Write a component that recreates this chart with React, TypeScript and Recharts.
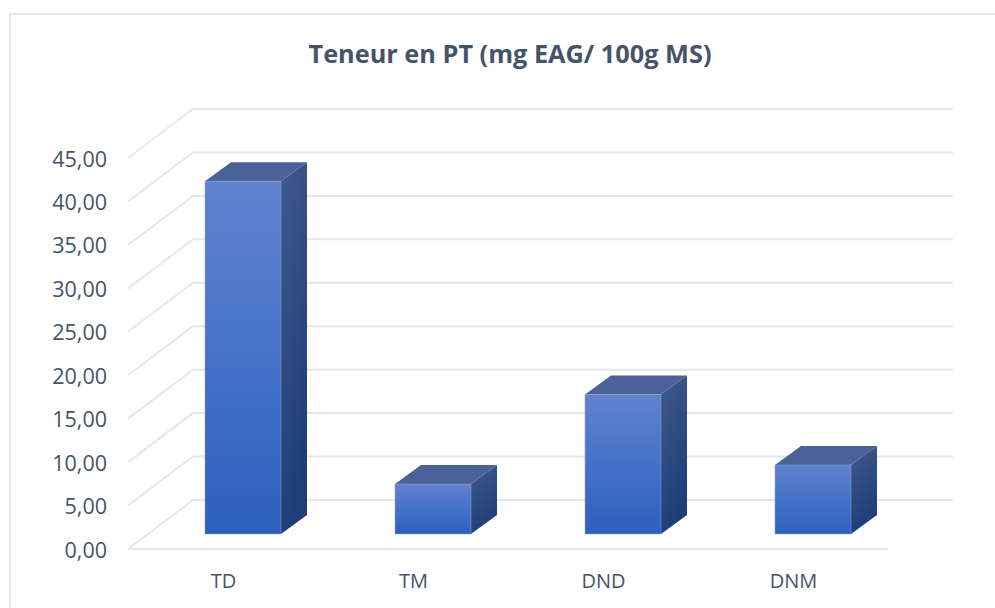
import { BarChart, Bar, XAxis, YAxis, CartesianGrid } from "recharts";

const CATEGORIES = ["TD", "TM", "DND", "DNM"];
const TENEUR = [40.6, 5.75, 16.05, 7.95];
const Y_TICKS = [0, 5, 10, 15, 20, 25, 30, 35, 40, 45];

const TEXT = "#44546A";
const GRID = "#E4E7EC";
const FONT = '"Open Sans", sans-serif';

const data = CATEGORIES.map((name, i) => ({ name, value: TENEUR[i] }));

// 3D depth of the bars and offsets of the fake wall/floor
const DEPTH_X = 26;
const DEPTH_Y = 19;
const WALL_LEFT = 193;
const WALL_RIGHT = 953;
const FRONT_LEFT = 128;
const FRONT_RIGHT = 888;
const WALL_DY = -34;
const FRONT_DY = 15;

function Bar3D(props: any) {
  const { x, y, width, height } = props;
  const r = x + width;
  const b = y + height;
  return (
    <g>
      <polygon
        points={`${x},${y} ${x + DEPTH_X},${y - DEPTH_Y} ${r + DEPTH_X},${y - DEPTH_Y} ${r},${y}`}
        fill="url(#topFace)"
      />
      <polygon
        points={`${r},${y} ${r + DEPTH_X},${y - DEPTH_Y} ${r + DEPTH_X},${b - DEPTH_Y} ${r},${b}`}
        fill="url(#sideFace)"
      />
      <rect x={x} y={y} width={width} height={height} fill="url(#frontFace)" stroke="#8EA6DA" strokeOpacity={0.5} strokeWidth={1} />
    </g>
  );
}

function GridLine(props: any) {
  const { y1, y2 } = props;
  const isFloor = Math.abs(y1 - 534) < 1;
  return (
    <g stroke={GRID} strokeWidth={2} fill="none">
      <polyline
        points={`${FRONT_LEFT},${y1 + FRONT_DY} ${WALL_LEFT},${y1 + WALL_DY} ${WALL_RIGHT},${y2 + WALL_DY}`}
      />
      {isFloor && <line x1={FRONT_LEFT} y1={y1 + FRONT_DY} x2={FRONT_RIGHT} y2={y1 + FRONT_DY} />}
    </g>
  );
}

function YTick(props: any) {
  const { y, payload } = props;
  return (
    <text x={107} y={y + 15} textAnchor="end" dominantBaseline="central" fill={TEXT} fontSize={21.5} fontFamily={FONT}>
      {payload.value.toFixed(2).replace(".", ",")}
    </text>
  );
}

function XTick(props: any) {
  const { x, payload } = props;
  return (
    <text x={x - 19.5} y={580} textAnchor="middle" dominantBaseline="central" fill={TEXT} fontSize={20} fontFamily={FONT}>
      {payload.value}
    </text>
  );
}

export default function App() {
  return (
    <div style={{ position: "absolute", left: 0, top: 0, width: 995, height: 608, background: "#fff", overflow: "hidden" }}>
      {/* chart frame, only left and top edges are visible */}
      <div
        style={{
          position: "absolute",
          left: 9,
          top: 13,
          width: 986,
          height: 594,
          borderLeft: `2px solid ${GRID}`,
          borderTop: `2px solid ${GRID}`,
          boxSizing: "border-box",
        }}
      />
      <div
        style={{
          position: "absolute",
          left: 0,
          top: 35,
          width: 1020,
          textAlign: "center",
          fontFamily: FONT,
          fontWeight: 700,
          fontSize: 25.3,
          lineHeight: "36px",
          color: TEXT,
        }}
      >
        Teneur en PT (mg EAG/ 100g MS)
      </div>
      <BarChart
        width={995}
        height={608}
        data={data}
        barCategoryGap="30%"
        margin={{ top: 143, right: 87, bottom: 0, left: 0 }}
        style={{ position: "absolute", left: 0, top: 0 }}
      >
        <defs>
          <linearGradient id="frontFace" x1="0" y1="0" x2="0" y2="1">
            <stop offset="0%" stopColor="#6282CE" />
            <stop offset="55%" stopColor="#4270C8" />
            <stop offset="100%" stopColor="#2D60BC" />
          </linearGradient>
          <linearGradient id="sideFace" x1="0" y1="0" x2="0.3" y2="1">
            <stop offset="0%" stopColor="#3F5A8C" />
            <stop offset="100%" stopColor="#1E3E78" />
          </linearGradient>
          <linearGradient id="topFace" x1="0" y1="0" x2="0" y2="1">
            <stop offset="0%" stopColor="#4A6298" />
            <stop offset="100%" stopColor="#4A6298" />
          </linearGradient>
        </defs>
        <CartesianGrid vertical={false} horizontal={GridLine as any} />
        <XAxis dataKey="name" height={74} axisLine={false} tickLine={false} tick={XTick as any} interval={0} />
        <YAxis width={148} domain={[0, 45]} ticks={Y_TICKS} axisLine={false} tickLine={false} tick={YTick as any} interval={0} />
        <Bar dataKey="value" shape={Bar3D as any} isAnimationActive={false} />
      </BarChart>
    </div>
  );
}
